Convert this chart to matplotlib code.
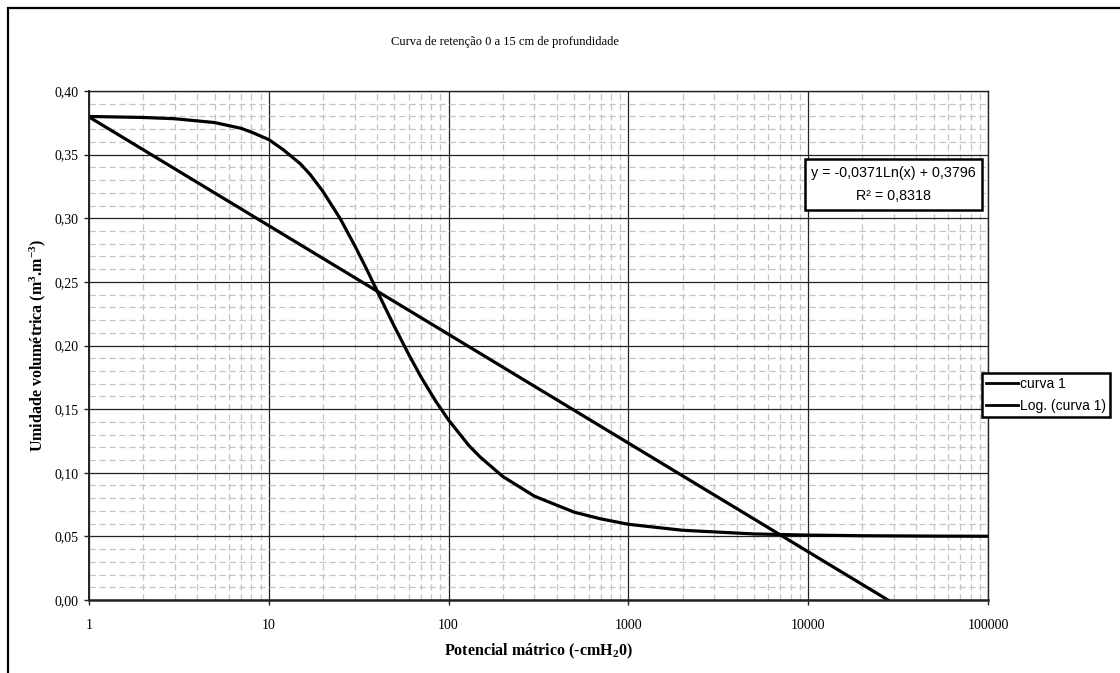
import matplotlib
matplotlib.use("Agg")
import matplotlib.pyplot as plt
from matplotlib.patches import Rectangle
from matplotlib.ticker import FixedLocator, NullFormatter
import numpy as np

# curva 1 - potencial (-cmH2O) x umidade volumetrica
potencial = [1, 2, 3, 5, 7, 8, 10, 12, 15, 17, 20, 25, 30, 35, 40, 45, 50, 60,
             70, 85, 100, 130, 150, 200, 300, 500, 700, 1000, 2000, 5000,
             10000, 20000, 50000, 100000]
umidade = [0.3800, 0.3792, 0.3782, 0.3752, 0.3707, 0.3677, 0.3618, 0.3540,
           0.3427, 0.3343, 0.3211, 0.2995, 0.2787, 0.2600, 0.2429, 0.2280,
           0.2148, 0.1930, 0.1756, 0.1560, 0.1414, 0.1212, 0.1123, 0.0971,
           0.0816, 0.0690, 0.0638, 0.0595, 0.0548, 0.0519, 0.0510, 0.0505,
           0.0502, 0.0501]

# linha de tendencia logaritmica
coef_a = -0.0371
coef_b = 0.3796
r2 = 0.8318

x_ticks = [1, 10, 100, 1000, 10000, 100000]
x_tick_labels = ['1', '10', '100', '1000', '10000', '100000']
y_ticks = [0.00, 0.05, 0.10, 0.15, 0.20, 0.25, 0.30, 0.35, 0.40]
y_tick_labels = ['0,00', '0,05', '0,10', '0,15', '0,20', '0,25', '0,30', '0,35', '0,40']

serif = 'Liberation Serif'
sans = 'Liberation Sans'
plt.rcParams['mathtext.fontset'] = 'custom'
plt.rcParams['mathtext.rm'] = 'Liberation Serif:bold'
plt.rcParams['mathtext.it'] = 'Liberation Serif:bold'
plt.rcParams['mathtext.bf'] = 'Liberation Serif:bold'

W, H = 1120, 673
fig = plt.figure(figsize=(W / 100, H / 100), dpi=100)
fig.patch.set_facecolor('white')

# moldura externa do grafico
fig.add_artist(Rectangle((8 / W, -0.2), 1.5, 1.2 - 8 / H, transform=fig.transFigure,
                         fill=False, edgecolor='black', linewidth=1.6))

ax = fig.add_axes([89 / W, 1 - 600 / H, (988 - 89) / W, (600 - 91) / H])
ax.set_xscale('log')
ax.set_xlim(1, 100000)
ax.set_ylim(0, 0.40)

# grade secundaria tracejada
ax.xaxis.set_minor_locator(FixedLocator([m * 10 ** e for e in range(5) for m in range(2, 10)]))
ax.xaxis.set_minor_formatter(NullFormatter())
ax.yaxis.set_minor_locator(FixedLocator(np.arange(0.01, 0.40, 0.01)))
ax.grid(which='minor', color='#c4c4c4', linewidth=0.9, linestyle=(0, (5, 3)))
ax.grid(which='major', color='#222222', linewidth=0.9, linestyle='-')
ax.set_axisbelow(True)
ax.tick_params(which='minor', length=0)

ax.set_xticks(x_ticks)
ax.set_xticklabels(x_tick_labels)
ax.set_yticks(y_ticks)
ax.set_yticklabels(y_tick_labels)
ax.tick_params(which='major', direction='out', length=3.5, width=1, color='#222222',
               labelsize=10, pad=4)
ax.tick_params(axis='x', pad=10)
for lab in ax.get_xticklabels() + ax.get_yticklabels():
    lab.set_family(serif)

for s in ax.spines.values():
    s.set_color('#222222')
    s.set_linewidth(1.0)
ax.spines['bottom'].set_linewidth(1.8)
ax.spines['left'].set_linewidth(1.4)

ax.plot(potencial, umidade, color='black', linewidth=2.3, label='curva 1')
x_tend = np.array([x_ticks[0], x_ticks[-1]], dtype=float)
ax.plot(x_tend, coef_a * np.log(x_tend) + coef_b, color='black', linewidth=2.3,
        label='Log. (curva 1)')

fig.text(505 / W, 1 - 42 / H, 'Curva de retenção 0 a 15 cm de profundidade',
         family=serif, fontsize=9, ha='center', va='center')
ax.set_xlabel(r'Potencial mátrico (-cmH$_2$0)', family=serif, fontsize=11.5,
              fontweight='bold', labelpad=7)
ax.set_ylabel(r'Umidade volumétrica (m$^3$.m$^{-3}$)', family=serif, fontsize=11.5,
              fontweight='bold', labelpad=5)

# caixa com a equacao da tendencia
fig.add_artist(Rectangle((805 / W, 1 - 210 / H), 177 / W, 51 / H, transform=fig.transFigure,
                         facecolor='white', edgecolor='black', linewidth=1.8))
eq = 'y = {}Ln(x) + {}'.format(f'{coef_a:.4f}'.replace('.', ','), f'{coef_b:.4f}'.replace('.', ','))
fig.text(893 / W, 1 - 173 / H, eq, family=sans, fontsize=10.3, ha='center', va='center')
fig.text(893 / W, 1 - 196 / H, 'R² = ' + f'{r2:.4f}'.replace('.', ','), family=sans,
         fontsize=10.3, ha='center', va='center')

leg = ax.legend(loc='upper left', bbox_to_anchor=(982 / W, 1 - 373 / H),
                bbox_transform=fig.transFigure, prop={'family': sans, 'size': 10},
                frameon=True, fancybox=False, edgecolor='black', framealpha=1,
                handlelength=2.3, handletextpad=0.1, borderpad=0.3, labelspacing=0.55,
                borderaxespad=0)
leg.get_frame().set_linewidth(1.8)
for line in leg.get_lines():
    line.set_linewidth(2.0)

fig.savefig('out.png', dpi=100)
